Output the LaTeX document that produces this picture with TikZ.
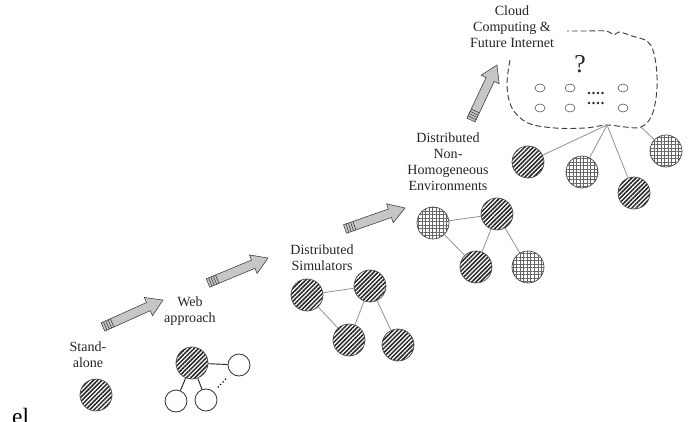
\documentclass[tikz,border=0pt]{standalone}
\usepackage{fontspec}
\setmainfont{Liberation Serif}
\usetikzlibrary{patterns.meta,calc,shapes.geometric}

\tikzset{
  hatched/.style={circle, draw=black!70, line width=0.6pt, minimum size=0.96cm, inner sep=0pt,
    pattern={Lines[angle=45,distance=2.6pt,line width=1.3pt]}, pattern color=black!85},
  gridded/.style={circle, draw=black!70, line width=0.6pt, minimum size=0.96cm, inner sep=0pt,
    pattern={Hatch[angle=0,distance=3pt,line width=0.4pt]}, pattern color=black!60},
  client/.style={circle, draw=black!80, line width=0.7pt, minimum size=0.66cm, inner sep=0pt, fill=white},
  vm/.style={ellipse, draw=black!70, line width=0.5pt, minimum width=0.3cm, minimum height=0.24cm, inner sep=0pt},
  link/.style={draw=gray!85, line width=0.7pt},
  label/.style={align=center, text=black!85, font=\fontsize{12}{13.6}\selectfont},
  arrowline/.style={draw=gray!50!black, line width=0.5pt},
  pics/fatarrow/.style={code={
    \draw[arrowline, fill=gray!45] (0,-4.5) -- (#1-16,-4.5) -- (#1-16,-10) -- (#1,0)
      -- (#1-16,10) -- (#1-16,4.5) -- (0,4.5) -- cycle;
    \foreach \k in {2.5,5,7.5,10} \draw[arrowline] (\k,-4.5) -- (\k,4.5);
  }}
}

\begin{document}
\begin{tikzpicture}[x=0.03cm, y=-0.03cm]
  \useasboundingbox (0,0) rectangle (689,422);

  % Stand-alone
  \node[label] (lstand) at (88,355) {Stand-\\alone};
  \node[hatched] (s1) at (96,395) {};

  % Web approach
  \node[label] (lweb) at (190,311) {Web\\approach};
  \node[hatched] (w1) at (192,363) {};
  \node[client] (w2) at (239,365) {};
  \node[client] (w3) at (176,401) {};
  \node[client] (w4) at (206,400) {};
  \draw[line width=0.8pt, black!85] (w1) -- (w2);
  \draw[line width=0.8pt, black!85] (w1) -- (w3);
  \draw[line width=0.8pt, black!85] (w1) -- (w4);
  \draw[line width=1pt, dotted] ($(w4)!0.36!(w2)$) -- ($(w4)!0.62!(w2)$);

  % Distributed simulators
  \node[label] (lsim) at (322,258) {Distributed\\Simulators};
  \node[hatched] (d1) at (307,295) {};
  \node[hatched] (d2) at (370,286) {};
  \node[hatched] (d3) at (349,340) {};
  \node[hatched] (d4) at (398,345) {};
  \draw[link] (d1) -- (d2);
  \draw[link] (d1) -- (d3);
  \draw[link] (d2) -- (d3);
  \draw[link] (d2) -- (d4);

  % Non-homogeneous environments
  \node[label] (lnon) at (448,162) {Distributed\\Non-\\Homogeneous\\Environments};
  \node[gridded] (n1) at (433,223) {};
  \node[hatched] (n2) at (497,214) {};
  \node[hatched] (n3) at (476,267) {};
  \node[gridded] (n4) at (528,267) {};
  \draw[link] (n1) -- (n2);
  \draw[link] (n1) -- (n3);
  \draw[link] (n2) -- (n3);
  \draw[link] (n2) -- (n4);

  % Cloud
  \node[label] (lcloud) at (512,27) {Cloud\\Computing \&\\Future Internet};
  \coordinate (hub) at (607,125);
  \coordinate (hub2) at (641,127);
  \draw[black!75, line width=0.8pt, dash pattern=on 5pt off 2.5pt]
    plot[smooth, tension=0.6] coordinates {(510,60) (507,85) (512,108) (528,123) (555,128)
      (585,128) (hub) (625,127) (hub2) (652,115) (657,88) (655,58) (648,42) (632,36)
      (619,32) (614,35) (606,31) (587,31) (567,31)};
  \node[font=\fontsize{22}{22}\selectfont, text=black!85] (qmark) at (580,64) {?};
  \node[vm] (v1) at (540,88) {};
  \node[vm] (v2) at (540,108) {};
  \node[vm] (v3) at (570,88) {};
  \node[vm] (v4) at (570,108) {};
  \node[vm] (v5) at (623,88) {};
  \node[vm] (v6) at (623,108) {};
  \foreach \x in {589,593.5,598,602.5} {
    \fill[black!85] (\x,93) circle (1.3);
    \fill[black!85] (\x,103) circle (1.3);
  }
  \node[hatched] (c1) at (528,162) {};
  \node[gridded] (c2) at (582,172) {};
  \node[hatched] (c3) at (634,193) {};
  \node[gridded] (c4) at (666,151) {};
  \draw[link] (hub) -- (c1);
  \draw[link] (hub) -- (c2);
  \draw[link] (hub) -- (c3);
  \draw[link] (hub2) -- (c4);

  % Arrows
  \coordinate (a1) at (103,327);
  \coordinate (a2) at (208,283);
  \coordinate (a3) at (345,229);
  \coordinate (a4) at (471,120);
  \pic[rotate=24.2] at (a1) {fatarrow=65.8};
  \pic[rotate=22.6] at (a2) {fatarrow=65};
  \pic[rotate=19.3] at (a3) {fatarrow=63.6};
  \pic[rotate=64.7] at (a4) {fatarrow=60.8};

  % cut-off text
  \node[anchor=base west, font=\fontsize{20}{20}\selectfont, inner sep=0pt] (frag) at (12,424) {el};
\end{tikzpicture}
\end{document}
